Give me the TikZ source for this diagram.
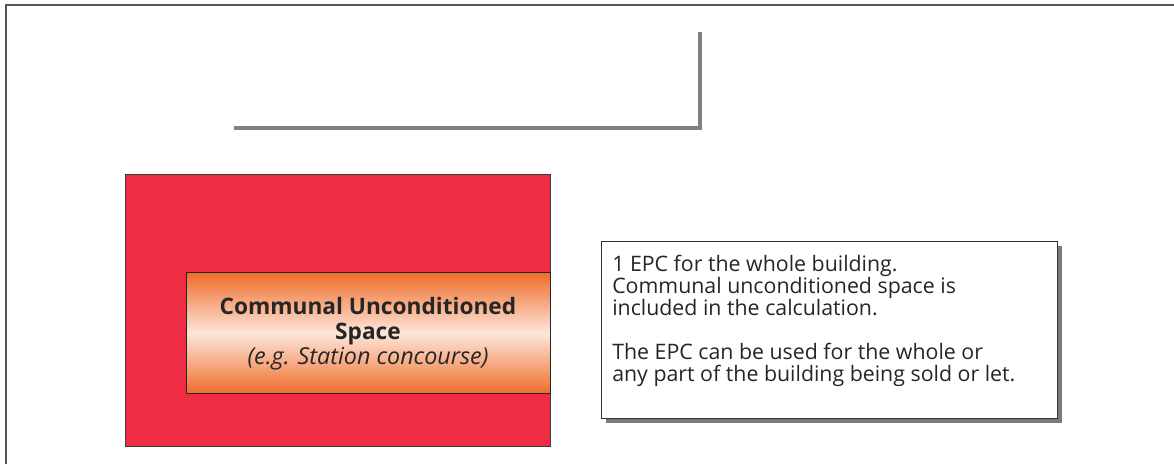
\documentclass[tikz,border=0pt]{standalone}
\usepackage{fontspec}
\setmainfont{Open Sans}
\definecolor{redfill}{HTML}{EE2D44}
\definecolor{orangeedge}{HTML}{EF6C2A}
\definecolor{orangemid}{HTML}{FDE6DA}
\definecolor{framegray}{HTML}{555555}
\definecolor{linkgray}{HTML}{808080}
\definecolor{shadowgray}{HTML}{7A7A7A}
\tikzset{
  building/.style={draw=framegray!70!black, line width=1pt, fill=redfill},
  communal/.style={draw=black!85, line width=1pt, top color=orangeedge, bottom color=orangeedge, middle color=orangemid},
  notebox/.style={draw=black!80, line width=1pt, fill=white},
  notetext/.style={font=\fontsize{16}{16.5}\selectfont, text=black!85, align=left, anchor=north west, inner sep=0pt},
  titletext/.style={font=\fontsize{17}{18.75}\selectfont, text=black!85, align=center, inner sep=0pt},
  link/.style={draw=linkgray, line width=3pt},
}
\begin{document}
\begin{tikzpicture}[x=0.75pt,y=-0.75pt]
\useasboundingbox (0,0) rectangle (1174,464);
% outer frame (only top and left edges visible)
\draw[framegray, line width=1.5pt] (6,464) -- (6,5) -- (1174,5);
% gray connector
\coordinate (la) at (234,128);
\coordinate (lb) at (700,128);
\coordinate (lc) at (700,32);
\draw[link] (la) -- (lb) -- (lc);
% building
\node[building, minimum width=425*0.75pt, minimum height=272*0.75pt, anchor=north west, inner sep=0pt] (bld) at (125,174) {};
% communal space
\node[communal, minimum width=364*0.75pt, minimum height=121*0.75pt, anchor=north west, inner sep=0pt] (com) at (186,272) {};
\node[titletext] (comtxt) at (368,334) {\textbf{Communal Unconditioned}\\\textbf{Space}\\{\fontsize{17.5}{18.75}\selectfont\textit{(e.g. Station concourse)}}};
% note box with shadow
\fill[shadowgray] (606,246) rectangle (1062,423);
\node[notebox, minimum width=456*0.75pt, minimum height=177*0.75pt, anchor=north west, inner sep=0pt] (note) at (601,241) {};
\node[notetext] (notetxt) at (612,255) {1 EPC for the whole building.\\Communal unconditioned space is\\included in the calculation.\\[16.5pt]The EPC can be used for the whole or\\any part of the building being sold or let.};
\end{tikzpicture}
\end{document}
